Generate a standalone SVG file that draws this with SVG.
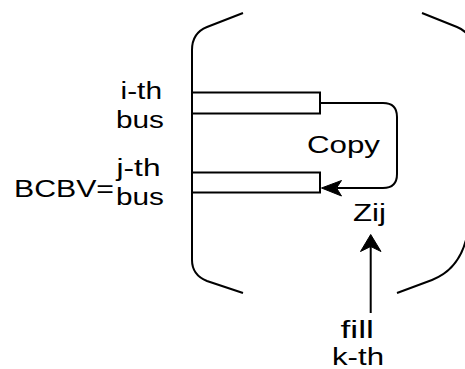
<svg xmlns="http://www.w3.org/2000/svg" width="465" height="369" viewBox="0 0 465 369">
<style>
.ln{fill:none;stroke:#000;stroke-width:2}
.bx{fill:#fff;stroke:#000;stroke-width:2}
.ah{fill:#000;stroke:#000;stroke-width:1;stroke-linejoin:miter}
text{font-family:"Liberation Sans",Arial,sans-serif;font-size:23px;fill:#000}
</style>
<rect width="465" height="369" fill="#fff"/>
<g id="bracket-left">
<path class="ln" d="M243,13 L207,27 Q192,33 192,50 V260 Q192,275 207,281 L243,293"/>
</g>
<g id="bracket-right">
<path class="ln" d="M422,13 L457,27 Q472,33 472,50"/>
<path class="ln" d="M397,293 L432,280 Q458,270 466,240"/>
</g>
<g id="bus-i">
<rect class="bx" x="192" y="92.5" width="128" height="21"/>
<text x="120.5" y="99" textLength="41.5" lengthAdjust="spacingAndGlyphs">i-th</text>
<text x="116" y="128" textLength="48" lengthAdjust="spacingAndGlyphs">bus</text>
</g>
<g id="bus-j">
<rect class="bx" x="192" y="172.5" width="128" height="20"/>
<text x="116.5" y="176" textLength="44" lengthAdjust="spacingAndGlyphs">j-th</text>
<text x="116" y="205" textLength="48" lengthAdjust="spacingAndGlyphs">bus</text>
</g>
<g id="label-bcbv">
<text x="14" y="197" textLength="100" lengthAdjust="spacingAndGlyphs">BCBV=</text>
</g>
<g id="label-copy">
<text x="307" y="153" textLength="73" lengthAdjust="spacingAndGlyphs">Copy</text>
</g>
<g id="label-zij">
<text x="353" y="221" textLength="33" lengthAdjust="spacingAndGlyphs">Zij</text>
</g>
<g id="label-fill">
<text x="340.5" y="338" textLength="33.5" lengthAdjust="spacingAndGlyphs">fill</text>
<text x="332" y="365" textLength="52" lengthAdjust="spacingAndGlyphs">k-th</text>
</g>
<g id="connectors">
<path class="ln" d="M320,103 H383 Q397,103 397,117 V174 Q397,188 383,188 H337"/>
<polygon class="ah" points="321.5,188 341.5,180.5 336.5,188 341.5,196"/>
<path class="ln" d="M370.7,313 V246"/>
<polygon class="ah" points="370.7,234.5 381,251.5 370.7,246.5 360.5,251.5"/>
</g>
</svg>
